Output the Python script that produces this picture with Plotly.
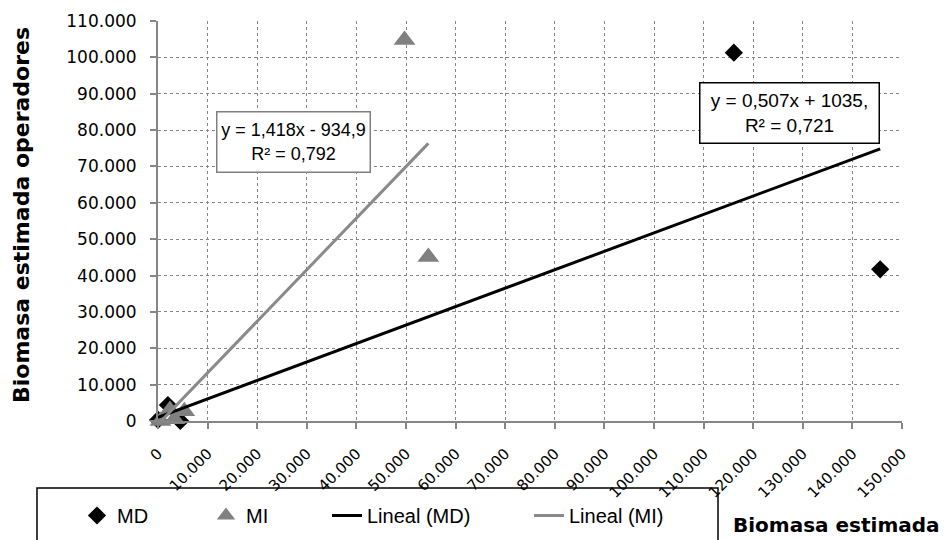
import numpy as np
import plotly.graph_objects as go

# Biomasa estimada (x) vs biomasa estimada por los operadores (y)
md_x = [0, 2000, 4500, 116100, 145600]
md_y = [300, 4400, 0, 101300, 41700]
mi_x = [500, 2400, 3300, 5300, 49700, 54500]
mi_y = [0, 3000, 500, 2700, 104800, 45100]

# Linear trend line coefficients (slope, intercept) and R²
md_fit = (0.507, 1035.0)
mi_fit = (1.418, -934.9)
md_label = "y = 0,507x + 1035,<br>R² = 0,721"
mi_label = "y = 1,418x - 934,9<br>R² = 0,792"

x_ticks = list(range(0, 150001, 10000))
y_ticks = list(range(0, 110001, 10000))

W, H = 944, 540
L, R, T, B = 158, 42, 21, 119
PW, PH = W - L - R, H - T - B


def px(p):
    return (p - L) / PW


def py(q):
    return (H - B - q) / PH


def trend(xs, fit):
    xs = np.array([min(xs), max(xs)], dtype=float)
    return xs, fit[0] * xs + fit[1]


GRAY = "#868686"
fig = go.Figure()
fig.add_trace(go.Scatter(
    x=md_x, y=md_y, mode="markers", name="MD",
    marker=dict(symbol="diamond", size=14, color="black"),
    cliponaxis=False, legendwidth=84))
fig.add_trace(go.Scatter(
    x=mi_x, y=mi_y, mode="markers", name="MI",
    marker=dict(symbol="triangle-up", size=19, color="#808080"),
    cliponaxis=False, legendwidth=76))
lx, ly = trend(md_x, md_fit)
fig.add_trace(go.Scatter(x=lx, y=ly, mode="lines", name="Lineal (MD)",
                         line=dict(color="black", width=3), legendwidth=157))
lx, ly = trend(mi_x, mi_fit)
fig.add_trace(go.Scatter(x=lx, y=ly, mode="lines", name="Lineal (MI)",
                         line=dict(color="#8a8a8a", width=3), legendwidth=110))

axis_common = dict(
    showgrid=True, gridcolor=GRAY, griddash="dot", gridwidth=1,
    showline=True, linecolor=GRAY, linewidth=2,
    ticks="outside", ticklen=6, tickcolor=GRAY, tickwidth=1.5,
    zeroline=False, tickformat=",d", automargin=False,
)

fig.update_xaxes(range=[0, 150000], tickvals=x_ticks, tickangle=-45,
                 tickfont=dict(family="DejaVu Sans", size=15, color="black"),
                 ticklabelstandoff=10, **axis_common)
fig.update_yaxes(range=[0, 110000], tickvals=y_ticks,
                 tickfont=dict(family="DejaVu Sans", size=17, color="black"),
                 ticklabelstandoff=10, **axis_common)

annotations = [
    dict(x=127400, y=84750, xref="x", yref="y", text=md_label, showarrow=False,
         font=dict(family="Arial", size=19, color="black"),
         bordercolor="black", borderwidth=1.5, borderpad=2, bgcolor="white",
         width=174, height=55),
    dict(x=27400, y=76600, xref="x", yref="y", text=mi_label, showarrow=False,
         font=dict(family="Arial", size=18, color="black"),
         bordercolor="#7f7f7f", borderwidth=1.5, borderpad=2, bgcolor="white",
         width=148, height=55),
    dict(x=px(21), y=py(215), xref="paper", yref="paper",
         text="Biomasa estimada operadores", textangle=-90, showarrow=False,
         font=dict(family="DejaVu Sans", size=22, color="black", weight="bold"),
         xanchor="center", yanchor="middle"),
    dict(x=px(942), y=py(525), xref="paper", yref="paper",
         text="Biomasa estimada", showarrow=False,
         font=dict(family="DejaVu Sans", size=20, color="black", weight="bold"),
         xanchor="right", yanchor="middle"),
]

shapes = [
    dict(type="rect", xref="paper", yref="paper",
         x0=px(37), x1=px(718), y0=py(488), y1=py(548),
         line=dict(color="black", width=1.5), fillcolor="white", layer="below"),
]

fig.update_layout(
    width=W, height=H,
    margin=dict(l=L, r=R, t=T, b=B, autoexpand=False),
    paper_bgcolor="white", plot_bgcolor="white",
    separators=",.",
    showlegend=True,
    legend=dict(orientation="h", xref="container", yref="container",
                x=77 / W, y=1 - 496 / H, xanchor="left", yanchor="top",
                font=dict(family="Arial", size=20, color="black"),
                bgcolor="rgba(0,0,0,0)", borderwidth=0),
    annotations=annotations,
    shapes=shapes,
)

fig.write_html("out.html")
